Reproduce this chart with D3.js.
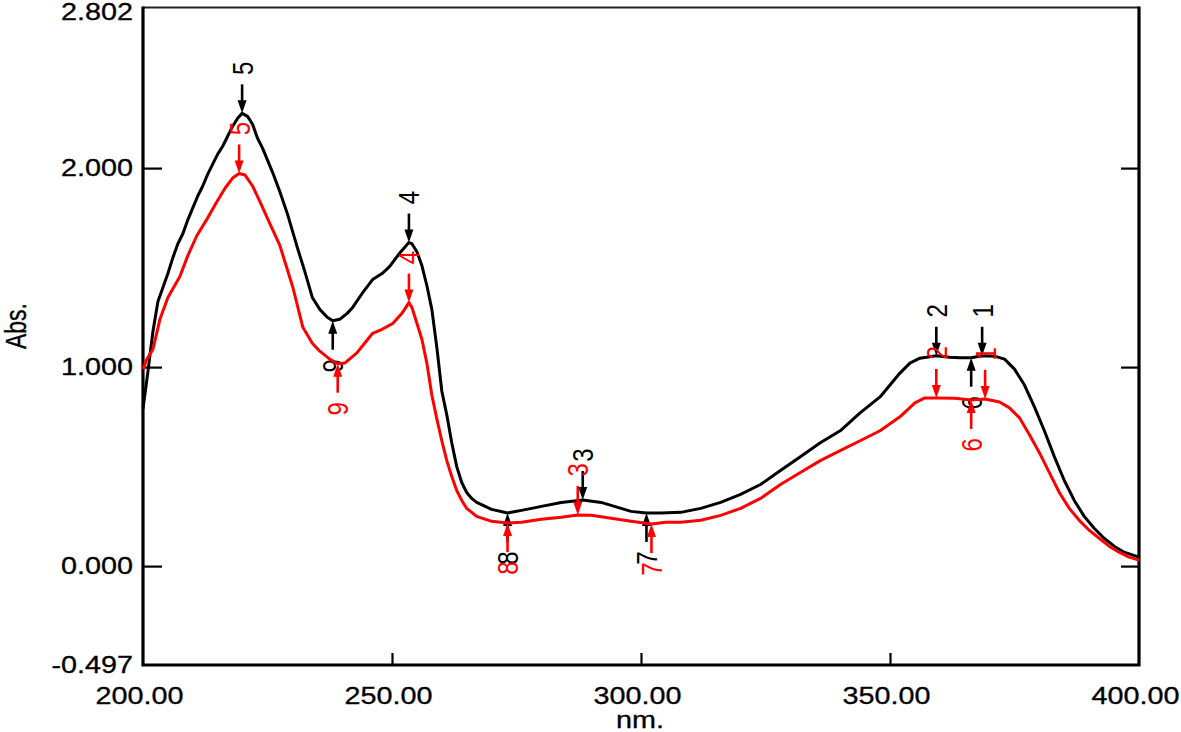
<!DOCTYPE html>
<html>
<head>
<meta charset="utf-8">
<script src="https://cdn.jsdelivr.net/npm/d3@7"></script>
<style>
  body { margin: 0; background: #fff; }
  svg { display: block; }
</style>
</head>
<body>
<svg id="chart" width="1181" height="732"></svg>
<script>
// spectrum 1 (black)
const nmBlack = [200, 201, 202, 203, 204, 205, 206, 207, 208, 209, 210, 211, 212, 213, 214, 215, 216, 217, 218, 219, 219.9,
  221, 222, 223, 224, 225, 226, 227.5, 229, 231, 232.5, 234, 235.5, 237, 238.1, 239.5, 241, 242.1, 244, 246.1, 248, 249.5,
  251.6, 253.4, 254, 255, 256, 257, 258, 259, 260, 261, 262, 263, 264, 265, 266, 267, 270, 273.2, 276, 280, 284, 288.3,
  292, 296, 298, 301.1, 304, 308, 312, 316, 320, 324, 328, 332, 336, 340, 344, 348, 350, 352, 354, 356, 359.3, 362, 364,
  366.3, 368.5, 371, 373, 375, 377, 379, 381, 383, 385, 387, 389, 391, 393, 395, 397, 400]
const absBlack = [0.79, 0.98, 1.18, 1.33, 1.40, 1.47, 1.55, 1.62, 1.67, 1.74, 1.80, 1.86, 1.91, 1.97, 2.02, 2.07, 2.11, 2.16, 2.21, 2.25, 2.275,
  2.26, 2.22, 2.15, 2.10, 2.04, 1.98, 1.88, 1.77, 1.60, 1.48, 1.35, 1.29, 1.25, 1.233, 1.24, 1.27, 1.30, 1.37, 1.44, 1.47, 1.505,
  1.575, 1.626, 1.62, 1.58, 1.51, 1.41, 1.29, 1.10, 0.88, 0.76, 0.62, 0.50, 0.42, 0.37, 0.34, 0.32, 0.285, 0.267, 0.28, 0.30, 0.32, 0.332,
  0.32, 0.29, 0.275, 0.267, 0.267, 0.27, 0.29, 0.32, 0.36, 0.41, 0.48, 0.55, 0.62, 0.68, 0.77, 0.85, 0.91, 0.97, 1.02, 1.045, 1.057, 1.05, 1.047,
  1.047, 1.057, 1.055, 1.04, 0.99, 0.91, 0.80, 0.68, 0.55, 0.43, 0.33, 0.25, 0.19, 0.14, 0.10, 0.07, 0.045]

// spectrum 2 (red)
const nmRed = [200, 200.8, 202, 203.4, 205, 207.4, 209, 210.8, 213, 214.8, 216.5, 218, 219.3, 220.5, 222, 223.5, 225.5, 227.5,
  230.1, 232.1, 234, 235.5, 237.5, 239.1, 240.5, 242.9, 244.5, 246.1, 248, 250.2, 252, 253.4, 254, 255, 256, 257, 258, 259,
  260, 261, 262, 263, 264, 265, 267, 270, 273.2, 276, 280, 284, 287.3, 290, 294, 298, 302.1, 305, 308, 312, 316, 320, 324,
  328, 332, 336, 340, 344, 348, 352, 355, 357, 359.3, 363, 366.3, 369.1, 372, 374, 376, 378, 380, 382, 384, 386, 388, 390,
  392, 394, 396, 398, 400]
const absRed = [0.99, 1.04, 1.09, 1.24, 1.35, 1.455, 1.56, 1.66, 1.75, 1.83, 1.90, 1.95, 1.973, 1.965, 1.91, 1.83, 1.72, 1.61,
  1.40, 1.20, 1.12, 1.08, 1.04, 1.017, 1.02, 1.07, 1.12, 1.17, 1.19, 1.22, 1.27, 1.324, 1.30, 1.22, 1.14, 1.02, 0.86, 0.74,
  0.63, 0.53, 0.45, 0.38, 0.33, 0.29, 0.25, 0.225, 0.216, 0.22, 0.235, 0.245, 0.257, 0.255, 0.24, 0.225, 0.211, 0.22, 0.22, 0.23, 0.255, 0.29, 0.34,
  0.41, 0.47, 0.53, 0.58, 0.63, 0.68, 0.75, 0.82, 0.845, 0.845, 0.843, 0.835, 0.840, 0.825, 0.795, 0.745, 0.66, 0.57, 0.47, 0.37, 0.29, 0.23, 0.18,
  0.14, 0.10, 0.07, 0.045, 0.03]

// peak / valley picks
const peakLabels = ["5", "4", "3", "2", "1"]
const valleyLabels = ["9", "8", "7", "6"]
const blackPeakNm = [219.9, 253.4, 288.3, 359.3, 368.5]
const blackPeakAbs = [2.275, 1.626, 0.332, 1.057, 1.057]
const blackValleyNm = [238.1, 273.2, 301.1, 366.3]
const blackValleyAbs = [1.233, 0.267, 0.267, 1.047]
const redPeakNm = [219.3, 253.4, 287.3, 359.3, 369.1]
const redPeakAbs = [1.973, 1.324, 0.257, 0.845, 0.840]
const redValleyNm = [239.1, 273.2, 302.1, 366.3]
const redValleyAbs = [1.017, 0.216, 0.211, 0.835]

const yLabelValues = [2.802, 2, 1, 0, -0.497]
const yTickValues = [2, 1, 0]
const xLabelValues = [200, 250, 300, 350, 400]
const xTickValues = [250, 300, 350]

const FONT = "'Liberation Sans', Arial, sans-serif"
const STRETCH = 1.25

const svg = d3.select("#chart")
const plotLeft = 143, plotRight = 1139, plotTop = 8.5, plotBottom = 665

const xScale = d3.scaleLinear().domain([200, 400]).range([plotLeft, plotRight])
const yScale = d3.scaleLinear().domain([-0.497, 2.802]).range([plotBottom, plotTop])

// labels in the original are wider than plain Arial
function stretchText(sel) {
  sel.each(function () {
    const w = this.getComputedTextLength()
    this.setAttribute("textLength", w * STRETCH)
    this.setAttribute("lengthAdjust", "spacingAndGlyphs")
  })
}
const fmtY = d => d3.format(".3f")(d).replace("\u2212", "-")

// ticks (inward)
const yTicksL = svg.append("g").attr("transform", `translate(${plotLeft},0)`)
  .call(d3.axisLeft(yScale).tickValues(yTickValues).tickSize(-19).tickFormat(""))
const yTicksR = svg.append("g").attr("transform", `translate(${plotRight},0)`)
  .call(d3.axisRight(yScale).tickValues(yTickValues).tickSize(-18).tickFormat(""))
const xTicks = svg.append("g").attr("transform", `translate(0,${plotBottom})`)
  .call(d3.axisBottom(xScale).tickValues(xTickValues).tickSize(-12).tickFormat(""))
for (const g of [yTicksL, yTicksR, xTicks]) {
  g.select(".domain").remove()
  g.selectAll(".tick line").attr("stroke", "#000").attr("stroke-width", 2.2)
}

// tick labels
const yLabels = svg.append("g").attr("transform", `translate(${plotLeft},0)`)
  .call(d3.axisLeft(yScale).tickValues(yLabelValues).tickSize(0).tickPadding(10).tickFormat(fmtY))
const xLabels = svg.append("g").attr("transform", `translate(-4,${plotBottom})`)
  .call(d3.axisBottom(xScale).tickValues(xLabelValues).tickSize(0).tickPadding(23).tickFormat(d3.format(".2f")))
for (const g of [yLabels, xLabels]) {
  g.select(".domain").remove()
  g.selectAll(".tick line").remove()
  g.selectAll("text").attr("font-family", FONT).attr("font-size", 23).attr("fill", "#000")
    .attr("stroke", "#000").attr("stroke-width", 0.3)
}
yLabels.selectAll("text").filter(d => d === 2.802).attr("y", 4)
yLabels.selectAll("text").call(stretchText)
xLabels.selectAll("text").call(stretchText)

// frame
svg.append("line").attr("x1", plotLeft).attr("x2", plotRight).attr("y1", plotTop - 1).attr("y2", plotTop - 1)
  .attr("stroke", "#222").attr("stroke-width", 2)
svg.append("path")
  .attr("d", `M${plotLeft},${plotTop - 2}V${plotBottom}H${plotRight}V${plotTop - 2}`)
  .attr("fill", "none").attr("stroke", "#000").attr("stroke-width", 3.2)

// axis titles
svg.append("text").attr("x", 640).attr("y", 728).attr("text-anchor", "middle")
  .attr("font-family", FONT).attr("font-size", 23).attr("stroke", "#000").attr("stroke-width", 0.3)
  .text("nm.").call(stretchText)
svg.append("text").attr("text-anchor", "middle").attr("dominant-baseline", "central")
  .attr("transform", `translate(16,326) scale(${STRETCH},1) rotate(-90)`)
  .attr("font-family", FONT).attr("font-size", 23).attr("stroke", "#000").attr("stroke-width", 0.3)
  .text("Abs.")

const line = d3.line().x(d => xScale(d[0])).y(d => yScale(d[1]))
const plot = svg.append("g")

function drawPicks(g, nm, abs, labels, dir, color) {
  nm.forEach((n, i) => {
    const px = xScale(n), py = yScale(abs[i])
    g.append("line").attr("x1", px).attr("x2", px)
      .attr("y1", py + dir * 29).attr("y2", py + dir * 9)
      .attr("stroke", color).attr("stroke-width", 2.6)
    g.append("path")
      .attr("d", `M${px},${py}L${px - 4.5},${py + dir * 13}L${px + 4.5},${py + dir * 13}Z`)
      .attr("fill", color)
    g.append("text")
      .attr("transform", `translate(${px},${py + dir * 45}) scale(${STRETCH},1) rotate(-90)`)
      .attr("text-anchor", "middle").attr("dominant-baseline", "central")
      .attr("font-family", FONT).attr("font-size", 24).attr("fill", color)
      .text(labels[i])
  })
}

function drawSeries(nm, abs, pNm, pAbs, vNm, vAbs, color) {
  const g = plot.append("g")
  g.append("path").datum(nm.map((n, i) => [n, abs[i]]))
    .attr("d", line).attr("fill", "none").attr("stroke", color)
    .attr("stroke-width", 3).attr("stroke-linejoin", "round")
  drawPicks(g, pNm, pAbs, peakLabels, -1, color)
  drawPicks(g, vNm, vAbs, valleyLabels, 1, color)
}

drawSeries(nmBlack, absBlack, blackPeakNm, blackPeakAbs, blackValleyNm, blackValleyAbs, "#000")
drawSeries(nmRed, absRed, redPeakNm, redPeakAbs, redValleyNm, redValleyAbs, "#ff0000")
</script>
</body>
</html>
